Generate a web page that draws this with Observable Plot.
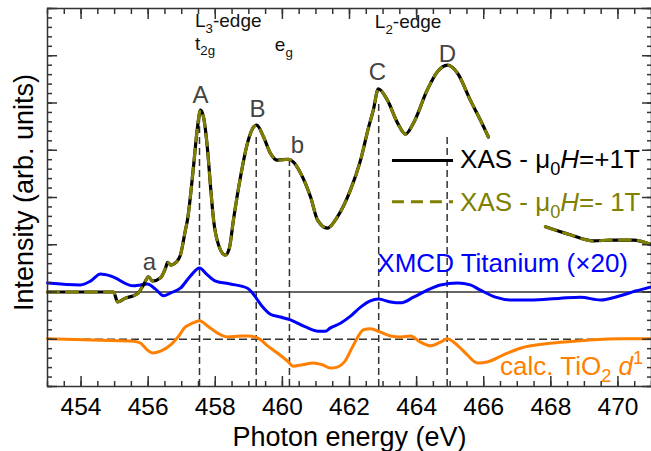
<!DOCTYPE html>
<html><head><meta charset="utf-8">
<script src="https://cdn.jsdelivr.net/npm/d3@7"></script>
<script src="https://cdn.jsdelivr.net/npm/@observablehq/plot@0.6"></script>
<style>
html,body{margin:0;padding:0;background:#fff;}
#chart svg{display:block;}
</style></head><body><div id="chart"></div>
<script>
// ---- data ----
const xasEnergy = [453.00, 453.98, 454.88, 454.97, 455.09, 455.32, 455.62, 455.71, 455.86, 456.01, 456.13, 456.37, 456.52, 456.58, 456.67, 456.84, 456.96, 457.11, 457.17, 457.35, 457.47, 457.56, 457.65, 457.77, 457.86, 457.95, 458.10, 458.30, 458.42, 458.54, 458.75, 458.96, 459.14, 459.23, 459.44, 459.64, 459.85, 460.18, 460.33, 460.54, 460.84, 461.05, 461.34, 461.64, 462.03, 462.33, 462.57, 462.71, 462.86, 463.13, 463.43, 463.67, 463.91, 464.32, 464.62, 464.92, 465.22, 465.60, 465.90, 466.14, 467.00, 467.84, 468.58, 469.27, 469.78, 470.46, 471.00];
const xasPlus = [0.00, 0.00, 0.00, 0.00, -0.21, -0.13, -0.06, -0.02, 0.15, 0.32, 0.23, 0.30, 0.51, 0.63, 0.57, 0.63, 0.78, 1.31, 1.52, 2.65, 3.49, 3.85, 3.70, 3.01, 2.22, 1.52, 0.99, 0.78, 0.93, 1.52, 2.43, 3.15, 3.49, 3.53, 3.28, 2.94, 2.79, 2.81, 2.75, 2.52, 2.01, 1.52, 1.35, 1.59, 2.16, 2.79, 3.49, 3.85, 4.30, 4.06, 3.58, 3.34, 3.58, 4.28, 4.66, 4.80, 4.63, 4.06, 3.64, 3.28, NaN, 1.38, 1.21, 1.08, 1.10, 1.10, 1.00];
const xasMinus = [0.00, 0.00, 0.00, 0.00, -0.21, -0.13, -0.06, -0.02, 0.15, 0.32, 0.23, 0.30, 0.51, 0.63, 0.57, 0.63, 0.78, 1.31, 1.52, 2.65, 3.49, 3.85, 3.70, 3.01, 2.22, 1.52, 0.99, 0.78, 0.93, 1.52, 2.43, 3.15, 3.49, 3.53, 3.28, 2.94, 2.79, 2.81, 2.75, 2.52, 2.01, 1.52, 1.35, 1.59, 2.16, 2.79, 3.49, 3.85, 4.30, 4.06, 3.58, 3.34, 3.58, 4.28, 4.66, 4.80, 4.63, 4.06, 3.64, 3.28, NaN, 1.38, 1.21, 1.08, 1.10, 1.10, 1.00];

const xmcdEnergy = [453.00, 453.98, 454.28, 454.58, 454.88, 455.56, 455.77, 455.98, 456.22, 456.46, 456.67, 456.96, 457.26, 457.53, 457.74, 458.01, 458.45, 458.96, 459.11, 459.26, 459.44, 459.64, 459.94, 460.24, 460.69, 461.07, 461.28, 461.43, 461.73, 462.03, 462.33, 462.62, 462.86, 463.22, 463.52, 463.91, 464.32, 464.71, 465.22, 465.60, 465.90, 466.35, 466.80, 467.39, 468.29, 468.88, 469.48, 470.07, 470.52, 471.00];
const xmcdValue = [0.19, 0.15, 0.23, 0.38, 0.34, 0.13, 0.15, 0.17, 0.06, -0.08, -0.02, 0.08, 0.34, 0.51, 0.38, 0.23, 0.17, 0.08, -0.02, -0.17, -0.34, -0.47, -0.53, -0.59, -0.74, -0.83, -0.83, -0.76, -0.66, -0.51, -0.32, -0.19, -0.15, -0.21, -0.23, -0.11, 0.04, 0.15, 0.19, 0.15, 0.04, -0.11, -0.17, -0.17, -0.13, -0.11, -0.17, -0.08, 0.02, 0.11];

const calcEnergy = [453.00, 454.58, 455.56, 455.77, 455.98, 456.13, 456.37, 456.67, 456.87, 457.11, 457.32, 457.53, 457.77, 458.07, 458.36, 458.75, 458.96, 459.26, 459.56, 459.85, 460.15, 460.33, 460.60, 460.93, 461.19, 461.43, 461.64, 461.85, 462.12, 462.42, 462.62, 462.92, 463.22, 463.52, 463.82, 464.11, 464.41, 464.71, 464.92, 465.10, 465.31, 465.51, 465.81, 466.11, 466.59, 467.09, 468.08, 469.09, 470.07, 471.00];
const calcValue = [-0.99, -1.02, -1.04, -1.08, -1.23, -1.29, -1.25, -1.12, -0.97, -0.74, -0.66, -0.61, -0.72, -0.87, -0.95, -0.93, -0.93, -0.97, -1.14, -1.29, -1.46, -1.57, -1.54, -1.50, -1.54, -1.61, -1.59, -1.48, -1.12, -0.80, -0.78, -0.85, -0.93, -0.95, -0.93, -1.06, -1.14, -1.06, -0.99, -1.06, -1.19, -1.33, -1.50, -1.48, -1.33, -1.19, -1.08, -1.02, -0.99, -0.99];

const peakEnergy = [457.53, 459.22, 460.21, 462.87, 464.91];
const peakTop = [3.81, 3.28, 2.79, 4.00, 3.28];

const labelText = ["a", "A", "B", "b", "C", "D"];
const labelEnergy = [456.04, 457.56, 459.26, 460.45, 462.83, 464.92];
const labelY = [0.47, 4.00, 3.70, 2.94, 4.49, 4.87];

const xMajorTicks = [454, 456, 458, 460, 462, 464, 466, 468, 470];
const xMinorTicks = d3.range(453, 471.01, 0.5);
const yMajorTicks = [-2, -1, 0, 1, 2, 3, 4, 5, 6];
const yMinorTicks = d3.range(-2, 6.001, 0.2).map(v => +v.toFixed(1));

const xTitle = "Photon energy (eV)";
const yTitle = "Intensity (arb. units)";
const xmcdLabel = "XMCD Titanium (\u00d720)";

const colXAS = "#000000", colXAS2 = "#808000", colXMCD = "#0000ff", colCalc = "#ff8000";

// ---- tables ----
const xasData = xasEnergy.map((e, i) => ({e, plus: xasPlus[i], minus: xasMinus[i]}));
const xmcdData = xmcdEnergy.map((e, i) => ({e, v: xmcdValue[i]}));
const calcData = calcEnergy.map((e, i) => ({e, v: calcValue[i]}));
const peaks = peakEnergy.map((e, i) => ({e, top: peakTop[i]}));
const labels = labelText.map((t, i) => ({t, e: labelEnergy[i], y: labelY[i]}));

const axisStyle = {stroke: "#333", strokeWidth: 1.5, label: null, tickFormat: () => ""};

const chart = Plot.plot({
  width: 651, height: 451,
  marginLeft: 47, marginRight: 0, marginTop: 8, marginBottom: 65,
  style: {fontFamily: "'Liberation Sans', Arial, Helvetica, sans-serif", fontSize: "24px", background: "#fff", overflow: "visible"},
  x: {domain: [453, 471], label: null},
  y: {domain: [-2, 6], label: null},
  marks: [
    Plot.ruleX(peaks, {x: "e", y1: -2, y2: "top", stroke: "#333", strokeWidth: 1.5, strokeDasharray: "7,4"}),
    Plot.ruleY([0], {stroke: "#333", strokeWidth: 1.5}),
    Plot.ruleY([-1], {stroke: "#333", strokeWidth: 1.5, strokeDasharray: "8,4"}),
    Plot.line(calcData, {x: "e", y: "v", stroke: colCalc, strokeWidth: 3, curve: "monotone-x"}),
    Plot.line(xmcdData, {x: "e", y: "v", stroke: colXMCD, strokeWidth: 3, curve: "monotone-x"}),
    Plot.line(xasData, {x: "e", y: "plus", stroke: colXAS, strokeWidth: 3.2, curve: "monotone-x"}),
    Plot.line(xasData, {x: "e", y: "minus", stroke: colXAS2, strokeWidth: 3, strokeDasharray: "11,8", curve: "monotone-x"}),
    Plot.text(labels, {x: "e", y: "y", text: "t", fill: "#444", fontSize: 24, lineAnchor: "bottom"}),
    Plot.text([xmcdLabel], {x: 462.83, y: 0.42, text: d => d, fill: colXMCD, fontSize: 26, textAnchor: "start", lineAnchor: "bottom"}),
    Plot.frame({stroke: "#333", strokeWidth: 1.5}),
    Plot.axisX(xMajorTicks, {anchor: "bottom", tickSize: -10, ...axisStyle}),
    Plot.axisX(xMinorTicks, {anchor: "bottom", tickSize: -5, ...axisStyle}),
    Plot.axisX(xMajorTicks, {anchor: "top", tickSize: -10, ...axisStyle}),
    Plot.axisX(xMinorTicks, {anchor: "top", tickSize: -5, ...axisStyle}),
    Plot.axisY(yMajorTicks, {anchor: "left", tickSize: -10, ...axisStyle}),
    Plot.axisY(yMinorTicks, {anchor: "left", tickSize: -5, ...axisStyle}),
    Plot.axisY(yMajorTicks, {anchor: "right", tickSize: -10, ...axisStyle}),
    Plot.axisY(yMinorTicks, {anchor: "right", tickSize: -5, ...axisStyle}),
    Plot.axisX(xMajorTicks, {anchor: "bottom", tickSize: 0, tickPadding: 11, fontSize: 24.5, label: null, fill: "#000"}),
    Plot.text([xTitle], {frameAnchor: "bottom", textAnchor: "middle", lineAnchor: "bottom", dy: 59, fontSize: 27, text: d => d}),
    Plot.text([yTitle], {frameAnchor: "left", textAnchor: "middle", lineAnchor: "bottom", rotate: -90, dx: -15, dy: -5, fontSize: 27, text: d => d})
  ]
});
document.getElementById("chart").appendChild(chart);

// ---- rich-text annotations & legend placed through the plot's scales ----
const sx = chart.scale("x"), sy = chart.scale("y");
const X = v => sx.apply(v), Y = v => sy.apply(v);
const svg = d3.select(chart);
const g = svg.append("g")
  .attr("font-family", "'Liberation Sans', Arial, Helvetica, sans-serif")
  .attr("text-anchor", "start");

function rich(x, y, segs, size, fill) {
  const t = g.append("text").attr("x", X(x)).attr("y", Y(y)).attr("fill", fill)
    .attr("font-size", size).attr("text-anchor", "start");
  let shift = 0;
  for (const s of segs) {
    const target = s.sub ? 0.28 * size : s.sup ? -0.42 * size : 0;
    const sp = t.append("tspan").text(s.t).attr("dy", target - shift);
    shift = target;
    if (s.sub || s.sup) sp.attr("font-size", size * 0.7);
    if (s.it) sp.attr("font-style", "italic");
  }
}

rich(457.41, 5.59, [{t: "L"}, {t: "3", sub: true}, {t: "-edge"}], 19, "#111");
rich(457.41, 5.12, [{t: "t"}, {t: "2g", sub: true}], 19, "#111");
rich(459.79, 5.08, [{t: "e"}, {t: "g", sub: true}], 19, "#111");
rich(462.77, 5.57, [{t: "L"}, {t: "2", sub: true}, {t: "-edge"}], 19, "#111");
rich(466.50, -1.76, [{t: "calc. TiO"}, {t: "2", sub: true}, {t: " "}, {t: "d", it: true}, {t: "1", sup: true}], 26, colCalc);

// legend
const legendRows = [
  {y: 2.77, ty: 2.62, stroke: colXAS, dash: null, fill: "#000", segs: [{t: "XAS - \u03bc"}, {t: "0", sub: true}, {t: "H", it: true}, {t: "=+1T"}]},
  {y: 1.90, ty: 1.71, stroke: colXAS2, dash: "12,7", fill: colXAS2, segs: [{t: "XAS - \u03bc"}, {t: "0", sub: true}, {t: "H", it: true}, {t: "=- 1T"}]}
];
for (const r of legendRows) {
  g.append("line").attr("x1", X(463.28)).attr("x2", X(465.10)).attr("y1", Y(r.y)).attr("y2", Y(r.y))
    .attr("stroke", r.stroke).attr("stroke-width", 3).attr("stroke-dasharray", r.dash);
  rich(465.31, r.ty, r.segs, 26, r.fill);
}
</script></body></html>
